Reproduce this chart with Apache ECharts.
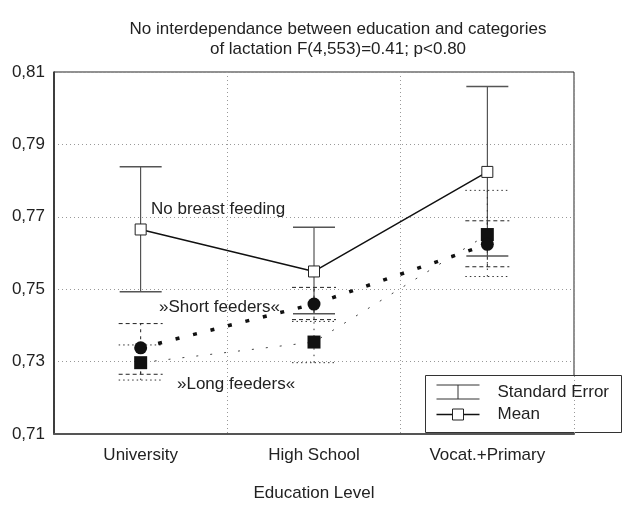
<!DOCTYPE html>
<html>
<head>
<meta charset="utf-8">
<script src="https://cdn.jsdelivr.net/npm/echarts@6/dist/echarts.min.js"></script>
<style>
  html, body { margin: 0; padding: 0; background: #fff; }
  #chart { width: 623px; height: 507px; }
</style>
</head>
<body>
<div id="chart"></div>
<script>
// data
const categories = ['University', 'High School', 'Vocat.+Primary'];
const yTicks = [0.71, 0.73, 0.75, 0.77, 0.79, 0.81];

const meanVals = [0.7665, 0.7549, 0.7824];
const meanHi   = [0.7838, 0.7671, 0.8060];
const meanLo   = [0.7493, 0.7432, 0.7592];

const shortVals = [0.7338, 0.7459, 0.7624];
const shortHi   = [0.7405, 0.7505, 0.7689];
const shortLo   = [0.7265, 0.7416, 0.7562];

const longVals = [0.7297, 0.7354, 0.7651];
const longHi   = [0.7346, 0.7411, 0.7773];
const longLo   = [0.7249, 0.7297, 0.7535];

const FONT = '"Liberation Sans", Arial, Helvetica, sans-serif';

function errData(lo, hi) {
    return categories.map(function (c, i) { return [i, lo[i], hi[i]]; });
}

// error bar drawer: vertical line + two caps
function errRenderer(capStyle, stemStyle, half) {
    return function (params, api) {
        const x = api.value(0);
        const lo = api.coord([x, api.value(1)]);
        const hi = api.coord([x, api.value(2)]);
        return {
            type: 'group',
            children: [
                { type: 'line', shape: { x1: lo[0], y1: lo[1], x2: hi[0], y2: hi[1] }, style: stemStyle },
                { type: 'line', shape: { x1: hi[0] - half, y1: hi[1], x2: hi[0] + half, y2: hi[1] }, style: capStyle },
                { type: 'line', shape: { x1: lo[0] - half, y1: lo[1], x2: lo[0] + half, y2: lo[1] }, style: capStyle }
            ]
        };
    };
}

const chart = echarts.init(document.getElementById('chart'));

const option = {
    backgroundColor: '#fff',
    animation: false,
    title: {
        text: 'No interdependance between education and categories\nof lactation F(4,553)=0.41; p<0.80',
        left: 333,
        top: 14,
        textAlign: 'center',
        textStyle: { fontFamily: FONT, fontSize: 17, fontWeight: 'normal', color: '#222', lineHeight: 20 }
    },
    grid: {
        left: 54, right: 49, top: 72, bottom: 65,
        show: true, borderColor: '#222', borderWidth: 1
    },
    xAxis: {
        type: 'category',
        data: categories,
        boundaryGap: true,
        name: 'Education Level',
        nameLocation: 'middle',
        nameGap: 51,
        nameTextStyle: { fontFamily: FONT, fontSize: 17, color: '#222' },
        axisLine: { lineStyle: { color: '#555', width: 2 } },
        axisTick: { show: false },
        axisLabel: { fontFamily: FONT, fontSize: 17, color: '#222', margin: 13 },
        splitLine: { show: true, lineStyle: { color: '#999', type: [1, 3], width: 1 } }
    },
    yAxis: {
        type: 'value',
        min: yTicks[0],
        max: yTicks[yTicks.length - 1],
        interval: 0.02,
        axisLine: { show: true, lineStyle: { color: '#222', width: 1.5 } },
        axisTick: { show: false },
        axisLabel: {
            fontFamily: FONT, fontSize: 17, color: '#222', margin: 9,
            formatter: function (v) { return v.toFixed(2).replace('.', ','); }
        },
        splitLine: { show: true, lineStyle: { color: '#999', type: [1, 3], width: 1 } }
    },
    series: [
        {
            name: 'Long SE',
            type: 'custom',
            renderItem: errRenderer(
                { stroke: '#333', lineWidth: 1, lineDash: [1.5, 3] },
                { stroke: '#333', lineWidth: 1, lineDash: [1.5, 5] },
                22),
            data: errData(longLo, longHi),
            z: 2
        },
        {
            name: 'Short SE',
            type: 'custom',
            renderItem: errRenderer(
                { stroke: '#222', lineWidth: 1, lineDash: [4, 3] },
                { stroke: '#222', lineWidth: 1, lineDash: [3, 4] },
                22),
            data: errData(shortLo, shortHi),
            z: 2
        },
        {
            name: 'Standard Error',
            type: 'custom',
            renderItem: errRenderer(
                { stroke: '#555', lineWidth: 1.5 },
                { stroke: '#333', lineWidth: 1 },
                21),
            data: errData(meanLo, meanHi),
            z: 3
        },
        {
            name: 'Long feeders',
            type: 'line',
            data: longVals,
            symbol: 'rect',
            symbolSize: 13,
            itemStyle: { color: '#111' },
            lineStyle: { color: '#444', width: 1, type: [2, 12] },
            z: 4
        },
        {
            name: 'Short feeders',
            type: 'line',
            data: shortVals,
            symbol: 'circle',
            symbolSize: 13,
            itemStyle: { color: '#111' },
            lineStyle: { color: '#111', width: 3.5, type: [4, 14], cap: 'butt' },
            z: 4
        },
        {
            name: 'Mean',
            type: 'line',
            data: meanVals,
            symbol: 'rect',
            symbolSize: 11,
            itemStyle: { color: '#fff', borderColor: '#222', borderWidth: 1 },
            lineStyle: { color: '#111', width: 1.5 },
            z: 5
        }
    ],
    graphic: [
        { type: 'text', left: 151, top: 201, z: 10,
          style: { text: 'No breast feeding', font: '17px ' + FONT, fill: '#222' } },
        { type: 'text', left: 159, top: 299, z: 10,
          style: { text: '»Short feeders«', font: '17px ' + FONT, fill: '#222' } },
        { type: 'text', left: 177, top: 376, z: 10,
          style: { text: '»Long feeders«', font: '17px ' + FONT, fill: '#222' } },
        // legend box
        {
            type: 'group', left: 425, top: 375, z: 20,
            children: [
                { type: 'rect', shape: { x: 0, y: 0, width: 196, height: 57 },
                  style: { fill: '#fff', stroke: '#333', lineWidth: 1 } },
                { type: 'line', shape: { x1: 11, y1: 9.5, x2: 54, y2: 9.5 }, style: { stroke: '#333', lineWidth: 1 } },
                { type: 'line', shape: { x1: 11, y1: 23.5, x2: 54, y2: 23.5 }, style: { stroke: '#333', lineWidth: 1 } },
                { type: 'line', shape: { x1: 32.5, y1: 9.5, x2: 32.5, y2: 23.5 }, style: { stroke: '#333', lineWidth: 1 } },
                { type: 'text', x: 72, y: 16.5, style: { text: 'Standard Error', font: '17px ' + FONT, fill: '#222', verticalAlign: 'middle' } },
                { type: 'line', shape: { x1: 11, y1: 39, x2: 54, y2: 39 }, style: { stroke: '#111', lineWidth: 1.5 } },
                { type: 'rect', shape: { x: 27, y: 33.5, width: 11, height: 11 }, style: { fill: '#fff', stroke: '#222', lineWidth: 1 } },
                { type: 'text', x: 72, y: 39, style: { text: 'Mean', font: '17px ' + FONT, fill: '#222', verticalAlign: 'middle' } }
            ]
        }
    ]
};

chart.setOption(option);

window.addEventListener('resize', function () {
    chart.resize();
});
</script>
</body>
</html>
